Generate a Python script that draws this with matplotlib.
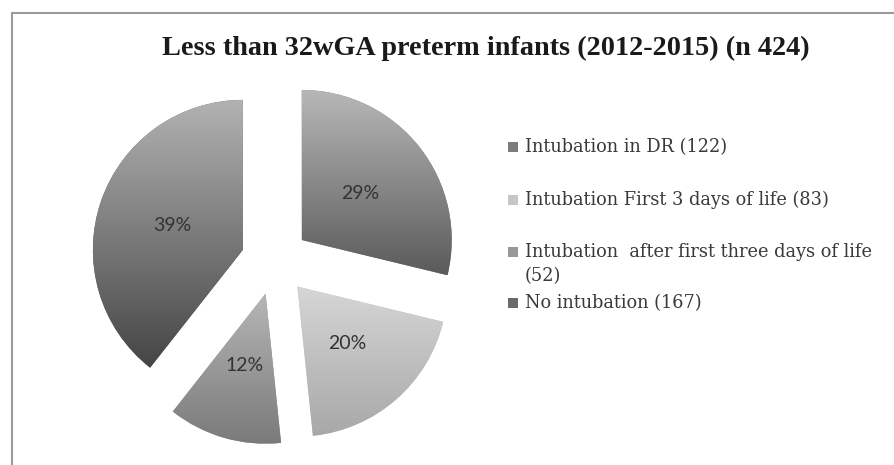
import numpy as np
import matplotlib
matplotlib.use("Agg")
import matplotlib.pyplot as plt
from matplotlib.patches import Rectangle
from matplotlib.colors import LinearSegmentedColormap

# ---- data ----
title = "Less than 32wGA preterm infants (2012-2015) (n 424)"
categories = ["Intubation in DR", "Intubation First 3 days of life",
              "Intubation  after first three days of life", "No intubation"]
counts = [122, 83, 52, 167]
legend_labels = ["Intubation in DR (122)", "Intubation First 3 days of life (83)",
                 "Intubation  after first three days of life\n(52)", "No intubation (167)"]
grad_top = ["#b8b8b8", "#d6d6d6", "#b6b6b6", "#b2b2b2"]
grad_bot = ["#5a5a5a", "#a8a8a8", "#7a7a7a", "#454545"]
marker_cols = ["#7c7c7c", "#c6c6c6", "#989898", "#6a6a6a"]

W, H = 895, 465
fig = plt.figure(figsize=(W / 100, H / 100), dpi=100)
ax = fig.add_axes([0, 0, 1, 1])

def py(y):  # pixel-from-top to data y
    return H - y

R = 150
wedges, texts, autotexts = ax.pie(
    counts, startangle=90, counterclock=False,
    center=(275, py(261)), radius=R, explode=[34] * 4,
    autopct="%1.0f%%", pctdistance=0.5,
    colors=[marker_cols[i] for i in range(len(counts))],
    wedgeprops=dict(linewidth=0),
    textprops=dict(family="Lato", fontsize=14, color="#333333"),
    frame=True)
ax.set_xlim(0, W)
ax.set_ylim(0, H)
ax.set_aspect("equal")
ax.axis("off")

# gradient fill clipped to each wedge
grad = np.linspace(0, 1, 256).reshape(-1, 1)
for i, w in enumerate(wedges):
    ext = w.get_window_extent(renderer=fig.canvas.get_renderer())
    (x0, y0), (x1, y1) = ax.transData.inverted().transform([[ext.x0, ext.y0], [ext.x1, ext.y1]])
    cmap = LinearSegmentedColormap.from_list("g%d" % i, [grad_top[i], grad_bot[i]])
    im = ax.imshow(grad, cmap=cmap, extent=[x0, x1, y0, y1], origin="upper",
                   aspect="auto", zorder=w.get_zorder() + 0.1, interpolation="bilinear")
    im.set_clip_path(w)
for t in autotexts:
    t.set_zorder(5)
ax.set_xlim(0, W)
ax.set_ylim(0, H)

# title
ax.text(486, py(48), title, ha="center", va="center", family="Liberation Serif",
        fontweight="bold", fontsize=20.3, color="#1a1a1a")

# legend
row_y = [147, 200, 252, 303]
for i, lab in enumerate(legend_labels):
    y = row_y[i]
    ax.add_patch(Rectangle((508, py(y) - 5), 10, 10, facecolor=marker_cols[i],
                           edgecolor="none", zorder=4))
    ax.text(525, py(y) + 9, lab, ha="left", va="top", family="DejaVu Serif",
            fontsize=12.8, color="#3a3a3a", linespacing=1.45)

# outer frame (left & top visible)
ax.add_patch(Rectangle((12, -10), W + 20, py(13) + 10, facecolor="none",
                       edgecolor="#9a9a9a", linewidth=1.5, zorder=1))

fig.savefig("out.png", dpi=100)
